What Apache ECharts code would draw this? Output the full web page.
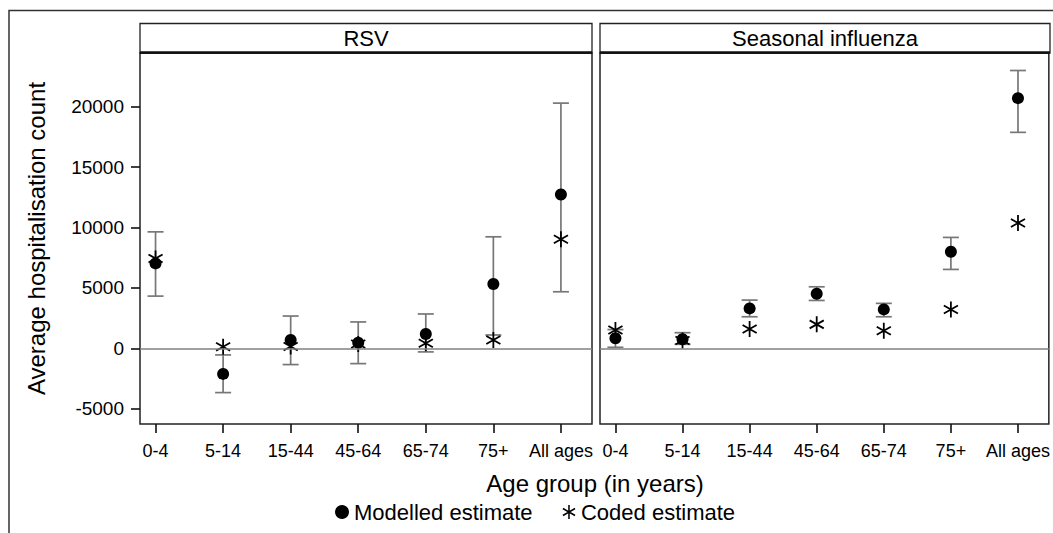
<!DOCTYPE html>
<html>
<head>
<meta charset="utf-8">
<script src="https://cdn.jsdelivr.net/npm/echarts@6/dist/echarts.min.js"></script>
<style>
html,body{margin:0;padding:0;background:#fff;}
#chart{width:1053px;height:533px;}
</style>
</head>
<body>
<div id="chart"></div>
<script>
// ---- data ----
var categories = ['0-4', '5-14', '15-44', '45-64', '65-74', '75+', 'All ages'];
var panels = ['RSV', 'Seasonal influenza'];
var yTicks = [-5000, 0, 5000, 10000, 15000, 20000];

var rsvModelled = [7030, -2120, 690, 460, 1180, 5320, 12730];
var rsvCoded    = [7440, 120, 150, 350, 410, 690, 9030];
var rsvLower    = [4320, -3670, -1350, -1270, -300, 1100, 4680];
var rsvUpper    = [9640, -550, 2670, 2180, 2840, 9230, 20300];

var fluModelled = [830, 750, 3300, 4510, 3220, 7990, 20710];
var fluCoded    = [1510, 650, 1600, 1980, 1450, 3220, 10380];
var fluLower    = [80, 330, 2610, 3960, 2610, 6530, 17880];
var fluUpper    = [1550, 1290, 3990, 5090, 3720, 9180, 23000];

// ---- helpers ----
var FONT = "'Liberation Sans', Arial, sans-serif";
var ASTER = 'path://M-0.11,-1L0.11,-1L0.11,1L-0.11,1Z' +
  'M0.811,-0.595L0.921,-0.405L-0.811,0.595L-0.921,0.405Z' +
  'M0.921,0.405L0.811,0.595L-0.921,-0.405L-0.811,-0.595Z';

function pts(vals) { return vals.map(function (v, i) { return [i, v]; }); }
function bars(lo, hi) { return lo.map(function (v, i) { return [i, v, hi[i]]; }); }

var grids = [
  {left: 140, top: 53, width: 452, height: 371},
  {left: 600, top: 53, width: 450, height: 371}
];

function errorSeries(idx, lo, hi) {
  return {
    type: 'custom', xAxisIndex: idx, yAxisIndex: idx, z: 2,
    data: bars(lo, hi),
    renderItem: function (params, api) {
      var x = api.value(0);
      var a = api.coord([x, api.value(1)]);
      var b = api.coord([x, api.value(2)]);
      var w = 8;
      var st = {stroke: '#777', lineWidth: 1.7};
      return {type: 'group', children: [
        {type: 'line', shape: {x1: a[0], y1: a[1], x2: b[0], y2: b[1]}, style: st},
        {type: 'line', shape: {x1: a[0] - w, y1: a[1], x2: a[0] + w, y2: a[1]}, style: st},
        {type: 'line', shape: {x1: b[0] - w, y1: b[1], x2: b[0] + w, y2: b[1]}, style: st}
      ]};
    },
    markLine: {
      silent: true, symbol: 'none', label: {show: false},
      lineStyle: {color: '#808080', width: 1.7, type: 'solid'},
      data: [{yAxis: 0}]
    }
  };
}

var xAxes = grids.map(function (g, i) {
  return {
    type: 'value', gridIndex: i, min: -0.23, max: 6.46, position: 'bottom',
    splitLine: {show: false},
    axisLine: {show: false, onZero: false},
    axisTick: {show: true, length: 9, inside: false, customValues: [0,1,2,3,4,5,6],
      lineStyle: {color: '#111', width: 1.6}},
    axisLabel: {show: true, customValues: [0,1,2,3,4,5,6], margin: 18,
      fontFamily: FONT, fontSize: 18, color: '#000',
      formatter: function (v) { return categories[Math.round(v)]; }}
  };
});

var yAxes = grids.map(function (g, i) {
  return {
    type: 'value', gridIndex: i, min: -6270, max: 24450, position: 'left',
    splitLine: {show: false},
    axisLine: {show: false, onZero: false},
    axisTick: {show: i === 0, length: 9, inside: false, customValues: yTicks,
      lineStyle: {color: '#111', width: 1.6}},
    axisLabel: {show: i === 0, customValues: yTicks, margin: 16,
      fontFamily: FONT, fontSize: 19, color: '#000',
      formatter: function (v) { return String(v); }},
    name: i === 0 ? 'Average hospitalisation count' : '',
    nameLocation: 'middle', nameRotate: 90, nameGap: 92,
    nameTextStyle: {fontFamily: FONT, fontSize: 24, color: '#000'}
  };
});

var series = [
  errorSeries(0, rsvLower, rsvUpper),
  errorSeries(1, fluLower, fluUpper),
  {name: 'Coded estimate', type: 'scatter', xAxisIndex: 0, yAxisIndex: 0, z: 3,
   symbol: ASTER, symbolSize: [15, 16], itemStyle: {color: '#000', opacity: 1}, data: pts(rsvCoded)},
  {name: 'Coded estimate', type: 'scatter', xAxisIndex: 1, yAxisIndex: 1, z: 3,
   symbol: ASTER, symbolSize: [15, 16], itemStyle: {color: '#000', opacity: 1}, data: pts(fluCoded)},
  {name: 'Modelled estimate', type: 'scatter', xAxisIndex: 0, yAxisIndex: 0, z: 4,
   symbol: 'circle', symbolSize: 12, itemStyle: {color: '#000', opacity: 1}, data: pts(rsvModelled)},
  {name: 'Modelled estimate', type: 'scatter', xAxisIndex: 1, yAxisIndex: 1, z: 4,
   symbol: 'circle', symbolSize: 12, itemStyle: {color: '#000', opacity: 1}, data: pts(fluModelled)}
];

var graphics = [
  {type: 'rect', shape: {x: 9, y: 10.5, width: 1080, height: 560},
   style: {fill: 'none', stroke: '#333', lineWidth: 1.5}, z: -1, silent: true}
];
grids.forEach(function (g, i) {
  graphics.push({type: 'rect', shape: {x: g.left, y: 23.5, width: g.width, height: 29.5},
    style: {fill: '#fff', stroke: '#222', lineWidth: 1.3}, silent: true});
  graphics.push({type: 'line', shape: {x1: g.left, y1: 52.5, x2: g.left + g.width, y2: 52.5},
    style: {stroke: '#111', lineWidth: 2.6}, silent: true});
  graphics.push({type: 'text', x: g.left + g.width / 2, y: 38.5,
    style: {text: panels[i], fill: '#000', font: '22px ' + FONT, textAlign: 'center', textVerticalAlign: 'middle'},
    silent: true});
});
graphics.push({type: 'text', x: 595, y: 483,
  style: {text: 'Age group (in years)', fill: '#000', font: '24px ' + FONT, textAlign: 'center', textVerticalAlign: 'middle'},
  silent: true});

var chart = echarts.init(document.getElementById('chart'), null, {renderer: 'svg'});
chart.setOption({
  animation: false,
  backgroundColor: '#fff',
  grid: grids.map(function (g) {
    return {left: g.left, top: g.top, width: g.width, height: g.height,
      show: true, borderColor: '#222', borderWidth: 1.5, backgroundColor: 'transparent'};
  }),
  xAxis: xAxes,
  yAxis: yAxes,
  legend: {
    left: 330, top: 496, itemGap: 30, itemWidth: 14, itemHeight: 14,
    textStyle: {fontFamily: FONT, fontSize: 22, color: '#000'},
    data: [
      {name: 'Modelled estimate', icon: 'circle', itemStyle: {opacity: 1, color: '#000'}},
      {name: 'Coded estimate', icon: ASTER, itemStyle: {opacity: 1, color: '#000'}}
    ],
    selectedMode: false
  },
  graphic: graphics,
  series: series
});
</script>
</body>
</html>
